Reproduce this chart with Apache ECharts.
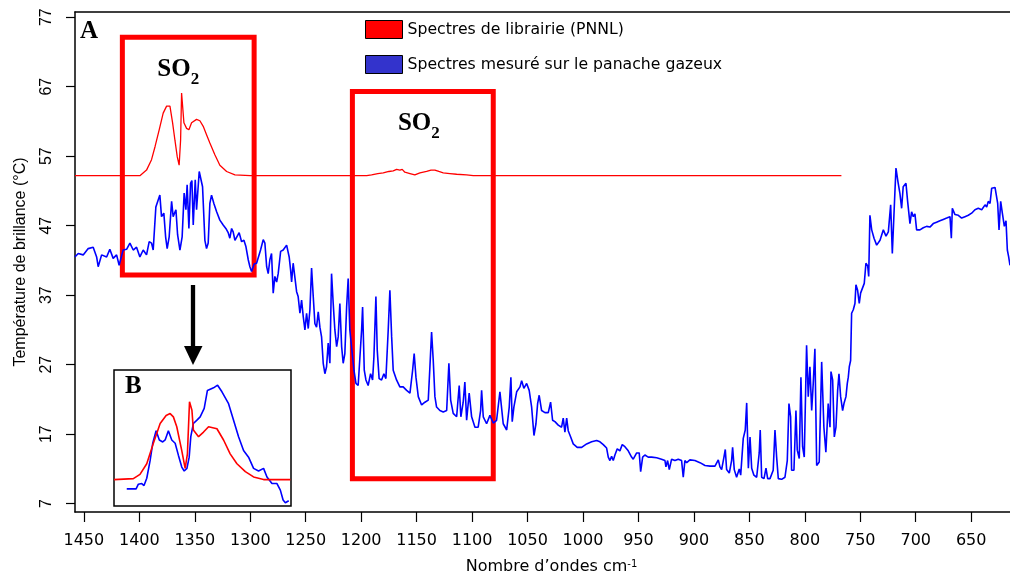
<!DOCTYPE html>
<html><head><meta charset="utf-8">
<script src="https://cdn.jsdelivr.net/npm/echarts@6/dist/echarts.min.js"></script>
<style>html,body{margin:0;padding:0;background:#fff}#chart{width:1010px;height:576px}</style>
</head><body><div id="chart"></div>
<script>
const xTicks = [1450,1400,1350,1300,1250,1200,1150,1100,1050,1000,950,900,850,800,750,700,650];
const yTicks = [7,17,27,37,47,57,67,77];

const legendNames = ['Spectres de librairie (PNNL)', 'Spectres mesuré sur le panache gazeux'];

const blueWn = [
1458.1,1455.1,1450.6,1446.1,1441.6,1438.5,1437.1,1434.0,1429.5,1426.6,
1423.6,1420.5,1418.2,1414.6,1411.5,1408.5,1405.5,1402.5,1399.5,1396.5,
1393.5,1391.1,1389.0,1387.5,1385.1,1383.0,1381.5,1380.0,1377.9,1376.3,
1374.9,1373.1,1370.9,1369.5,1367.0,1365.5,1363.4,1361.4,1359.6,1358.0,
1356.9,1355.3,1353.8,1352.6,1351.4,1349.6,1348.4,1346.0,1344.8,1343.0,
1340.9,1339.4,1337.9,1336.4,1334.9,1332.8,1330.3,1327.4,1324.4,1322.0,
1319.9,1318.4,1316.8,1315.4,1313.8,1312.3,1310.0,1307.8,1305.7,1303.9,
1301.8,1300.3,1298.8,1296.5,1294.3,1292.8,1290.7,1288.3,1286.8,1285.2,
1283.8,1282.3,1280.8,1279.3,1277.8,1276.2,1274.8,1272.6,1270.3,1268.8,
1267.2,1266.0,1264.9,1263.6,1262.7,1261.3,1259.7,1258.2,1256.8,1255.2,
1253.7,1252.2,1250.7,1249.2,1247.7,1246.2,1244.7,1243.2,1241.7,1240.2,
1238.7,1237.2,1235.7,1234.2,1232.7,1231.2,1229.7,1228.2,1226.7,1225.2,
1223.7,1222.1,1220.7,1219.2,1217.6,1216.2,1214.7,1213.1,1211.7,1210.2,
1206.5,1204.7,1202.7,1201.1,1199.6,1198.7,1197.2,1195.7,1193.7,1191.5,
1189.7,1188.5,1186.7,1185.5,1183.8,1181.6,1179.5,1177.7,1175.6,1174.1,
1172.5,1171.1,1168.1,1165.1,1162.1,1159.0,1156.0,1153.6,1152.2,1150.6,
1148.5,1145.5,1142.5,1139.5,1138.0,1136.5,1135.0,1133.5,1132.0,1129.0,
1126.0,1122.9,1120.9,1119.3,1117.0,1113.9,1111.6,1110.1,1108.0,1106.5,
1104.9,1102.6,1100.4,1097.4,1094.5,1092.3,1091.4,1089.9,1086.9,1083.9,
1080.9,1077.9,1074.9,1071.9,1068.8,1066.5,1065.0,1063.8,1062.3,1059.8,
1056.8,1055.3,1053.3,1050.8,1048.5,1046.3,1044.2,1042.4,1040.9,1039.5,
1037.3,1034.3,1031.3,1029.2,1027.4,1025.3,1022.3,1019.3,1017.8,1016.3,
1014.7,1013.3,1011.1,1008.8,1005.2,1001.2,996.7,992.2,987.7,984.7,
981.7,978.7,977.2,975.7,974.2,972.7,971.2,969.1,966.7,964.6,
962.2,959.2,956.2,954.7,951.6,949.3,948.0,946.2,944.2,941.2,
938.1,933.6,929.2,926.1,925.2,923.7,922.2,920.1,917.1,914.1,
911.1,909.6,908.1,906.5,903.6,899.1,894.5,890.0,885.5,881.0,
878.0,876.5,875.0,872.9,871.7,870.5,868.1,866.0,865.1,863.6,
861.5,859.1,857.8,855.5,853.7,852.4,850.9,849.4,847.9,845.9,
843.4,841.1,840.2,838.9,836.8,835.0,833.5,831.4,828.5,826.9,
825.4,823.9,820.9,817.9,815.8,814.3,812.8,811.9,809.8,808.0,
806.8,805.0,803.5,802.0,800.5,798.4,796.9,795.4,793.8,792.4,
790.9,789.3,787.0,784.8,782.8,781.0,778.9,777.3,776.4,774.9,
773.4,771.9,770.4,769.2,767.7,765.9,764.7,762.9,761.7,760.8,
759.9,758.7,757.8,756.3,754.8,753.9,752.4,750.9,749.7,747.9,
746.4,744.9,743.3,742.4,741.3,739.7,737.6,735.2,732.2,729.2,
726.8,724.7,722.6,721.1,720.2,718.7,717.8,716.0,714.3,712.7,
711.3,708.8,707.3,705.2,703.7,702.2,700.7,699.2,696.2,693.2,
690.2,687.2,684.2,681.2,678.2,675.2,672.1,669.1,667.9,667.0,
664.6,661.6,658.6,655.6,652.6,649.6,646.6,643.6,640.5,637.5,
636.0,634.6,633.0,631.5,628.5,627.0,626.1,624.9,623.4,621.9,
620.1,618.6,617.4,616.2,615.0
];
const blueT = [
42.5,43.0,42.8,43.7,43.9,42.5,41.1,42.8,42.5,43.6,
42.3,42.8,41.3,43.5,43.6,44.5,43.5,43.9,42.5,43.5,
42.8,44.7,44.5,43.5,49.7,50.7,51.4,48.3,48.8,45.4,
43.7,45.4,50.5,48.3,49.3,45.7,43.5,45.4,51.7,49.3,
52.9,46.6,53.1,53.5,47.1,53.6,49.3,54.8,54.6,52.6,
44.9,43.7,44.5,50.2,51.4,50.2,49.0,47.8,47.1,46.6,
46.0,45.2,46.6,46.1,44.9,44.7,46.0,44.7,44.9,44.0,
42.1,41.1,40.4,41.5,41.6,41.8,43.5,45.0,44.5,41.1,
40.1,42.1,43.0,37.3,39.7,38.9,40.1,43.3,43.5,43.7,
44.2,44.2,42.5,40.6,38.9,41.6,41.6,37.5,36.8,34.4,
36.3,33.9,32.0,34.4,32.2,34.9,40.9,36.8,32.9,32.4,
34.6,32.4,31.0,27.2,25.7,26.7,30.1,27.2,40.1,35.8,
32.0,29.6,31.0,35.8,29.6,27.2,28.6,35.3,39.4,32.0,
26.2,24.3,24.0,24.2,32.0,35.3,26.2,24.8,24.0,25.7,
24.8,28.1,36.8,29.1,25.0,24.8,25.7,25.0,32.0,37.7,
31.0,26.2,24.8,23.8,23.8,23.3,22.9,26.2,28.6,25.2,
22.4,21.2,21.6,21.9,26.7,31.7,27.6,22.4,20.9,20.4,
20.2,20.4,27.2,21.9,20.0,19.5,24.0,19.5,21.6,24.5,
19.0,22.9,19.5,18.0,18.0,20.4,23.3,19.5,18.5,19.7,
18.6,19.0,23.1,18.5,17.6,20.9,25.2,18.8,20.9,23.1,
23.8,24.7,23.6,24.3,23.3,20.9,16.8,18.5,21.4,22.6,
20.4,20.1,20.1,21.6,19.0,18.8,18.3,18.0,19.3,17.3,
19.3,17.5,16.6,15.6,15.1,15.1,15.6,15.9,16.1,15.9,
15.5,15.0,13.7,13.2,13.8,13.2,14.0,14.9,14.6,15.5,
15.2,14.6,13.7,13.4,14.3,14.3,11.6,13.7,14.0,13.7,
13.7,13.6,13.4,13.2,12.3,13.2,11.9,13.4,13.2,13.4,
13.2,10.8,13.2,12.9,13.3,13.2,12.9,12.5,12.4,12.4,
13.3,12.3,11.9,13.7,14.8,11.9,11.4,13.2,15.1,11.9,
10.8,12.0,11.1,16.4,17.6,21.5,12.1,16.6,12.1,11.1,
10.8,14.3,17.6,10.8,10.6,12.1,10.6,10.6,11.8,17.6,
13.7,10.6,10.5,10.8,13.2,21.4,19.5,11.8,11.8,20.4,
14.7,13.5,25.2,15.2,13.7,29.8,22.4,26.7,20.4,24.3,
29.3,12.5,13.0,27.4,18.0,14.4,21.4,18.0,26.0,24.8,
16.6,18.0,23.3,25.7,22.4,20.4,21.4,22.4,24.3,25.2,
26.7,27.6,34.4,34.9,35.8,38.5,37.7,35.8,37.3,37.3,
38.7,41.6,41.2,39.7,48.5,46.4,45.2,44.2,44.9,46.4,
45.5,46.1,50.0,43.0,42.9,52.1,55.3,53.3,51.7,49.5,
52.6,53.1,50.5,47.3,49.0,48.3,48.7,46.4,46.4,46.7,
46.9,46.8,47.3,47.5,47.7,47.9,48.1,48.3,45.2,49.5,
48.6,48.5,48.1,48.3,48.5,48.8,49.3,49.5,49.3,50.0,
49.7,50.5,50.2,52.4,52.5,52.4,50.2,46.4,50.5,48.8,
46.9,47.7,43.5,42.5,41.3
];

const redWn = [1458,1399.5,1393.5,1389.0,1385.8,1382.1,1378.5,1375.4,1372.4,1370.0,
1367.9,1365.8,1364.1,1362.8,1361.9,1361.0,1359.8,1357.4,1355.3,1352.9,
1348.4,1345.4,1342.4,1339.4,1336.4,1331.9,1327.4,1321.3,1313.8,1300,
1195,1190.6,1185,1180.1,1175,1171.1,1168,1165.1,1163,1160.6,
1156,1151.6,1147,1141.0,1137,1133.5,1130,1126.0,1120,1113.9,
1105,1098.9,767];
const redT = [54.2,54.2,55.0,56.5,58.4,60.8,63.2,64.2,64.2,61.8,
59.3,56.9,55.7,59.3,66.1,66.1,61.8,61.0,60.8,61.8,
62.3,62.1,61.3,60.1,58.9,57.2,55.7,54.8,54.3,54.2,
54.2,54.3,54.5,54.6,54.8,54.9,55.1,55.0,55.1,54.7,
54.5,54.3,54.6,54.8,55.0,55.0,54.8,54.6,54.5,54.4,
54.3,54.2,54.2];

const insetBlueWn = [1400.8,1395.0,1393.6,1391.5,1390.1,1388.4,1386.3,1384.7,1382.6,1380.6,
1378.5,1377.0,1375.0,1372.9,1370.8,1368.8,1366.7,1365.2,1363.5,1362.1,
1361.1,1359.5,1357.3,1355.3,1352.8,1350.8,1347.0,1344.5,1341.8,1337.7,
1334.6,1331.5,1328.4,1325.3,1322.2,1319.1,1316.0,1313.9,1310.8,1307.7,
1305.6,1303.9,1302.5,1300.4];
const insetBlueT = [52.8,52.8,53.5,53.6,53.3,54.4,57.1,59.7,61.6,60.2,
59.9,60.2,61.6,60.2,59.7,57.9,56.1,55.5,55.9,57.6,
60.7,62.7,63.2,63.7,65.0,67.7,68.1,68.5,67.5,65.7,
63.2,60.7,58.6,57.6,55.9,55.5,55.9,54.6,53.6,53.6,
52.6,51.1,50.7,51.0];
const insetRedWn = [1408.7,1396.7,1392.6,1388.4,1384.3,1380.1,1376.4,1373.9,1371.9,1369.8,
1366.7,1364.6,1363.2,1361.9,1360.4,1359.5,1356.3,1353.2,1350.1,1344.9,
1340.8,1336.7,1332.5,1327.3,1322.2,1316.0,1299.4];
const insetRedT = [54.2,54.35,55.0,56.6,59.7,62.7,63.9,64.2,63.7,62.2,
58.6,55.9,58.1,66.0,64.7,61.7,60.7,61.4,62.2,61.9,
60.2,58.1,56.6,55.4,54.6,54.2,54.2];

function zip(a, b) {
  const n = Math.min(a.length, b.length), r = [];
  for (let i = 0; i < n; i++) r.push([a[i], b[i]]);
  return r;
}

const SANS = '"Liberation Sans", Arial, sans-serif';
const WIDE = '"DejaVu Sans", sans-serif';
const SERIF = '"Liberation Serif", "Times New Roman", serif';

const so2Label = (dx) => ({
  show: true, position: 'insideTop', distance: 22, offset: [dx, 0],
  formatter: '{m|SO}{s|2}',
  rich: {
    m: {fontFamily: SERIF, fontWeight: 'bold', fontSize: 25, color: '#000', verticalAlign: 'bottom', padding: [0, 0, 6, 0]},
    s: {fontFamily: SERIF, fontWeight: 'bold', fontSize: 17, color: '#000', verticalAlign: 'bottom'}
  }
});

const chart = echarts.init(document.getElementById('chart'), null, {renderer: 'canvas'});
const baseGraphics = [
  {type: 'text', left: 80, top: 19, z: 20, style: {text: 'A', font: 'bold 25px ' + SERIF, fill: '#000'}},
  {type: 'text', left: 125, top: 374, z: 20, style: {text: 'B', font: 'bold 25px ' + SERIF, fill: '#000'}},
  {type: 'line', z: 20, shape: {x1: 193, y1: 285, x2: 193, y2: 350}, style: {stroke: '#000', lineWidth: 4.3}},
  {type: 'polygon', z: 20, shape: {points: [[184, 346], [202.5, 346], [193, 365]]}, style: {fill: '#000'}}
];
chart.setOption({
  animation: false,
  backgroundColor: '#fff',
  grid: [
    {left: 75, right: 0, top: 12, bottom: 64, containLabel: false, outerBoundsMode: 'none'},
    {left: 114, top: 370, width: 177, height: 136, show: true, borderColor: '#000', borderWidth: 1.5,
     backgroundColor: '#fff', z: 3, containLabel: false, outerBoundsMode: 'none'}
  ],
  legend: {
    left: 360, top: 15, orient: 'vertical', icon: 'rect',
    itemWidth: 37, itemHeight: 18, itemGap: 16, selectedMode: false,
    textStyle: {fontFamily: WIDE, fontSize: 15.7, color: '#000'},
    data: [
      {name: legendNames[0], itemStyle: {color: '#ff0000', borderColor: '#000', borderWidth: 1}},
      {name: legendNames[1], itemStyle: {color: '#3333cc', borderColor: '#000', borderWidth: 1}}
    ]
  },
  xAxis: [
    {
      type: 'value', gridIndex: 0, min: 615, max: 1458, inverse: true,
      name: '{m|Nombre d’ondes cm}{s|-1}', nameLocation: 'middle', nameGap: 47, nameMoveOverlap: false,
      nameTextStyle: {padding: [0, 0, 0, 18], rich: {
        m: {fontFamily: WIDE, fontSize: 16, color: '#000', verticalAlign: 'bottom'},
        s: {fontFamily: WIDE, fontSize: 10, color: '#000', verticalAlign: 'bottom', padding: [0, 0, 6, 0]}
      }},
      axisLine: {show: true, onZero: false, lineStyle: {color: '#000', width: 1.5}},
      axisTick: {show: true, length: 10, lineStyle: {color: '#000', width: 1.2}, customValues: xTicks},
      axisLabel: {fontFamily: WIDE, fontSize: 16, color: '#000', margin: 21, customValues: xTicks,
                  formatter: (v) => String(v)},
      splitLine: {show: false}
    },
    {
      type: 'value', gridIndex: 0, position: 'top', min: 615, max: 1458, inverse: true,
      axisLine: {show: true, onZero: false, lineStyle: {color: '#000', width: 1.5}},
      axisTick: {show: false}, axisLabel: {show: false}, splitLine: {show: false}
    },
    {type: 'value', gridIndex: 1, min: 1299, max: 1408.7, inverse: true, show: false}
  ],
  yAxis: [
    {
      type: 'value', gridIndex: 0, min: 5.8, max: 77.75,
      name: 'Température de brillance (°C)', nameLocation: 'middle', nameGap: 46, nameMoveOverlap: false,
      nameTextStyle: {fontFamily: SANS, fontSize: 16, color: '#000'},
      axisLine: {show: true, onZero: false, lineStyle: {color: '#000', width: 1.5}},
      axisTick: {show: true, length: 9, lineStyle: {color: '#000', width: 1.2}, customValues: yTicks},
      axisLabel: {show: false, customValues: yTicks},
      splitLine: {show: false}
    },
    {type: 'value', gridIndex: 1, min: 50.2, max: 70.8, show: false}
  ],
  series: [
    {
      name: legendNames[1], type: 'line', xAxisIndex: 0, yAxisIndex: 0,
      data: zip(blueWn, blueT), showSymbol: false, symbol: 'none',
      lineStyle: {color: '#0000ff', width: 1.6}, itemStyle: {color: '#3333cc'}, z: 2
    },
    {
      name: legendNames[0], type: 'line', xAxisIndex: 0, yAxisIndex: 0,
      data: zip(redWn, redT), showSymbol: false, symbol: 'none',
      lineStyle: {color: '#ff0000', width: 1.3}, itemStyle: {color: '#ff0000'}, z: 3
    },
    {
      name: 'boxes', type: 'line', xAxisIndex: 0, yAxisIndex: 0, data: [], z: 6, silent: true,
      markArea: {
        silent: true,
        itemStyle: {color: 'rgba(0,0,0,0)', borderColor: '#ff0000', borderWidth: 5},
        data: [
          [{xAxis: 1415.3, yAxis: 74.1, label: so2Label(-10)}, {xAxis: 1296.5, yAxis: 39.9}],
          [{xAxis: 1207.9, yAxis: 66.3, label: so2Label(-4)}, {xAxis: 1080.9, yAxis: 10.6}]
        ]
      }
    },
    {
      name: 'insetBlue', type: 'line', xAxisIndex: 2, yAxisIndex: 1,
      data: zip(insetBlueWn, insetBlueT), showSymbol: false, symbol: 'none',
      lineStyle: {color: '#0000ff', width: 1.6}, z: 5
    },
    {
      name: 'insetRed', type: 'line', xAxisIndex: 2, yAxisIndex: 1,
      data: zip(insetRedWn, insetRedT), showSymbol: false, symbol: 'none',
      lineStyle: {color: '#ff0000', width: 1.6}, z: 5
    }
  ],
  graphic: baseGraphics
});

// rotated y tick labels, positioned through the axis scale
const yLabelGraphics = yTicks.map((v) => {
  const py = chart.convertToPixel({yAxisIndex: 0}, v);
  return {
    type: 'text', x: 47, y: py, rotation: Math.PI / 2, z: 20,
    style: {text: String(v), font: '16px ' + SANS, fill: '#000',
            align: 'center', verticalAlign: 'middle', textAlign: 'center', textVerticalAlign: 'middle'}
  };
});
chart.setOption({graphic: baseGraphics.concat(yLabelGraphics)});
</script></body></html>
